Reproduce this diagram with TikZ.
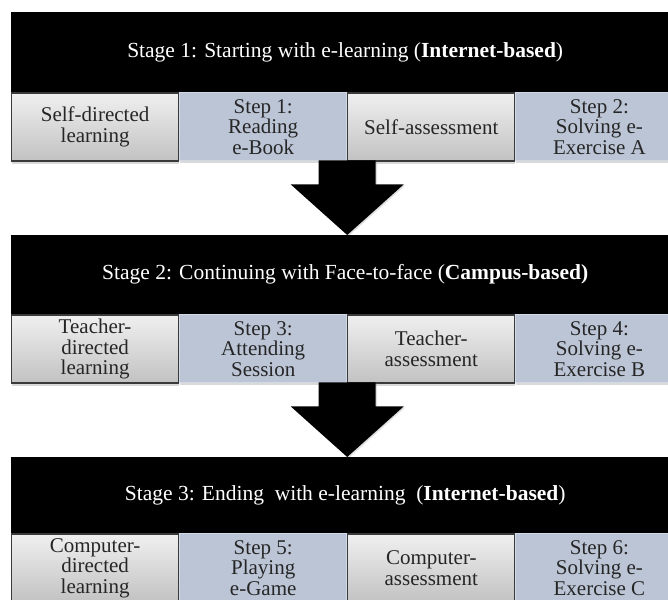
\documentclass[tikz,border=0pt]{standalone}
\usepackage{fontspec}
\setmainfont{Liberation Serif}
\usetikzlibrary{calc,shadows}
\definecolor{cellblue}{HTML}{BCC5D6}
\definecolor{blueedge}{HTML}{D3D9E4}
\definecolor{greyedge}{HTML}{3A3A3A}
\definecolor{celltext}{HTML}{262626}
\newcommand{\cellfont}{\fontsize{21}{20.5}\selectfont}
\newcommand{\stagefont}{\fontsize{21.5}{25}\selectfont}
\tikzset{
  band/.style={fill=black, anchor=north west, minimum width=668pt,
    inner sep=0pt, text=white, font=\stagefont},
  cellbase/.style={anchor=north west, minimum width=167pt, minimum height=68pt,
    inner sep=0pt, align=center, text=celltext, font=\cellfont,
    drop shadow={shadow xshift=0pt, shadow yshift=-2.5pt, opacity=0.3}},
  actcell/.style={cellbase, draw=greyedge, line width=1.2pt,
    top color=white!94!black, bottom color=white!76!black},
  stepcell/.style={cellbase, draw=blueedge, line width=1pt, fill=cellblue},
  blockarrow/.style={fill=black,
    drop shadow={shadow xshift=1.5pt, shadow yshift=-1pt, opacity=0.25}}
}
\begin{document}
\begin{tikzpicture}[x=1pt,y=-1pt]
  \useasboundingbox (0,0) rectangle (668,599);
  \clip (0,0) rectangle (668,599);

  % stage bands (placed first so the arrows can refer to them)
  \path (11,12) node[band, minimum height=80pt] (b1)
    {Stage 1: Starting with e-learning (\textbf{Internet-based})};
  \path (11,235) node[band, minimum height=79pt] (b2) {};
  \path (11,457) node[band, minimum height=76pt] (b3) {};

  % row of stage 1
  \node[actcell]  (c11) at (b1.south west) {Self-directed\\learning};
  \node[stepcell] (c12) at (c11.north east) {Step 1:\\Reading\\e-Book};
  \node[actcell]  (c13) at (c12.north east) {Self-assessment};
  \node[stepcell] (c14) at (c13.north east) {Step 2:\\Solving e-\\Exercise A};

  % row of stage 2
  \node[actcell]  (c21) at (b2.south west) {Teacher-\\directed\\learning};
  \node[stepcell] (c22) at (c21.north east) {Step 3:\\Attending\\Session};
  \node[actcell]  (c23) at (c22.north east) {Teacher-\\assessment};
  \node[stepcell] (c24) at (c23.north east) {Step 4:\\Solving e-\\Exercise B};

  % row of stage 3
  \node[actcell]  (c31) at (b3.south west) {Computer-\\directed\\learning};
  \node[stepcell] (c32) at (c31.north east) {Step 5:\\Playing\\e-Game};
  \node[actcell]  (c33) at (c32.north east) {Computer-\\assessment};
  \node[stepcell] (c34) at (c33.north east) {Step 6:\\Solving e-\\Exercise C};

  % block arrows between the stages
  \foreach \src/\dst in {c12/b2, c22/b3}{
    \coordinate (o) at (\src.south east);
    \fill[blockarrow]
      ($(o)+(-28.5,-1)$) -- ($(o)+(-28.5,23)$) -- ($(o)+(-56.5,23)$)
      -- (o |- \dst.north)
      -- ($(o)+(56.5,23)$) -- ($(o)+(28.5,23)$) -- ($(o)+(28.5,-1)$) -- cycle;
  }

  % bands of stages 2 and 3, drawn over the arrow tips
  \fill (b2.north west) rectangle (b2.south east);
  \node[text=white, font=\stagefont] (t2) at (b2.center)
    {Stage 2: Continuing with Face-to-face (\textbf{Campus-based)}};
  \fill (b3.north west) rectangle (b3.south east);
  \node[text=white, font=\stagefont] (t3) at (b3.center)
    {Stage 3: Ending\ \ with e-learning\ \ (\textbf{Internet-based})};
\end{tikzpicture}
\end{document}
